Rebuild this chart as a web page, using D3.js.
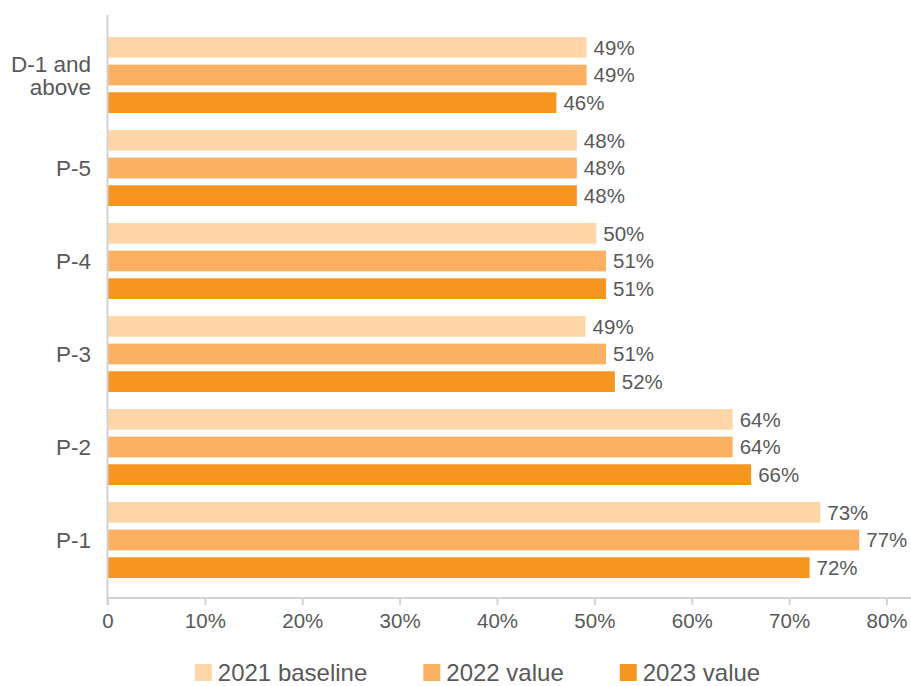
<!DOCTYPE html>
<html>
<head>
<meta charset="utf-8">
<script src="https://cdn.jsdelivr.net/npm/d3@7"></script>
<style>
  html, body { margin: 0; padding: 0; background: #fff; }
  svg { display: block; font-family: "Liberation Sans", Arial, sans-serif; }
</style>
</head>
<body>
<svg id="chart" width="911" height="686"></svg>
<script>
const categories = ["D-1 and above", "P-5", "P-4", "P-3", "P-2", "P-1"];
const seriesNames = ["2021 baseline", "2022 value", "2023 value"];
const values2021 = [49.2, 48.2, 50.2, 49.1, 64.2, 73.2];
const values2022 = [49.2, 48.2, 51.2, 51.2, 64.2, 77.2];
const values2023 = [46.1, 48.2, 51.2, 52.1, 66.1, 72.1];
const labels2021 = ["49%", "48%", "50%", "49%", "64%", "73%"];
const labels2022 = ["49%", "48%", "51%", "51%", "64%", "77%"];
const labels2023 = ["46%", "48%", "51%", "52%", "66%", "72%"];
const xTicks = [0, 10, 20, 30, 40, 50, 60, 70, 80];
const xTickLabels = ["0", "10%", "20%", "30%", "40%", "50%", "60%", "70%", "80%"];
const colors = ["#FED6A8", "#FBB062", "#F6951F"];

const seriesValues = [values2021, values2022, values2023];
const seriesLabels = [labels2021, labels2022, labels2023];

const svg = d3.select("#chart");
const textColor = "#595959";
const axisColor = "#d3d3d3";

const x = d3.scaleLinear().domain([0, 80]).range([107.5, 886.5]);
const y = d3.scaleBand().domain(categories).range([28.5, 586.5])
  .paddingInner(0.183).paddingOuter(0.0915);
const ySub = d3.scaleBand().domain(seriesNames).range([0, y.bandwidth()]).paddingInner(0.25);

// bars
const groups = svg.append("g").selectAll("g")
  .data(categories)
  .join("g")
  .attr("transform", d => `translate(0,${y(d)})`);

seriesNames.forEach((s, si) => {
  groups.append("rect")
    .attr("x", x(0))
    .attr("y", ySub(s))
    .attr("width", (d, i) => x(seriesValues[si][i]) - x(0))
    .attr("height", ySub.bandwidth())
    .attr("fill", colors[si]);
  groups.append("text")
    .attr("x", (d, i) => x(seriesValues[si][i]) + 7)
    .attr("y", ySub(s) + ySub.bandwidth() / 2)
    .attr("dy", "0.36em")
    .attr("font-size", 20.5)
    .attr("fill", textColor)
    .text((d, i) => seriesLabels[si][i]);
});

// x axis
const xAxis = d3.axisBottom(x)
  .tickValues(xTicks)
  .tickFormat((d, i) => xTickLabels[i])
  .tickSize(7)
  .tickSizeOuter(0)
  .tickPadding(8);
const xg = svg.append("g").attr("transform", "translate(0,598)").call(xAxis);
xg.select(".domain").remove();
xg.selectAll(".tick line").attr("stroke", axisColor).attr("stroke-width", 2);
xg.selectAll(".tick text").attr("font-size", 20.5).attr("fill", textColor)
  .attr("font-family", "Liberation Sans, Arial, sans-serif");
svg.append("line")
  .attr("x1", x(0)).attr("x2", 911)
  .attr("y1", 598).attr("y2", 598)
  .attr("stroke", axisColor).attr("stroke-width", 2);

// y axis line
svg.append("line")
  .attr("x1", x(0)).attr("x2", x(0))
  .attr("y1", 15).attr("y2", 605)
  .attr("stroke", axisColor).attr("stroke-width", 2);

// category labels
categories.forEach(c => {
  const cy = y(c) + y.bandwidth() / 2;
  const t = svg.append("text")
    .attr("text-anchor", "end")
    .attr("font-size", 22.5)
    .attr("fill", textColor);
  if (c === "D-1 and above") {
    t.append("tspan").attr("x", 91).attr("y", cy - 3.5).text("D-1 and");
    t.append("tspan").attr("x", 91).attr("y", cy + 20).text("above");
  } else {
    t.attr("x", 91).attr("y", cy).attr("dy", "0.36em").text(c);
  }
});

// legend
const legend = svg.append("g");
let lx = 0;
seriesNames.forEach((s, i) => {
  const g = legend.append("g");
  g.append("rect").attr("x", 0).attr("y", 664).attr("width", 17).attr("height", 17).attr("fill", colors[i]);
  const t = g.append("text").attr("x", 23).attr("y", 681).attr("font-size", 24).attr("fill", textColor).text(s);
  const w = 23 + t.node().getComputedTextLength();
  g.attr("transform", `translate(${lx},0)`);
  lx += w + 56;
});
const totalW = lx - 56;
legend.attr("transform", `translate(${477.5 - totalW / 2},0)`);
</script>
</body>
</html>
